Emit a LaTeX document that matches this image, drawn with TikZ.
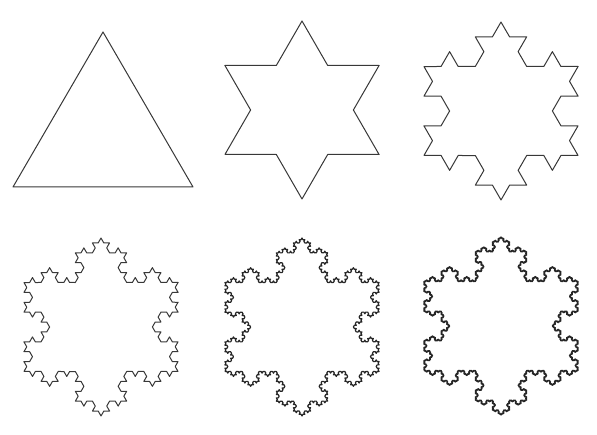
\documentclass[tikz,border=0pt]{standalone}
\usetikzlibrary{decorations.fractals}
\begin{document}
\begin{tikzpicture}[x=1pt,y=1pt,
  decoration=Koch snowflake,
  koch/.style={draw=black!78, line width=1pt, line join=round},
  kochdense/.style={draw=black!85, line width=1.2pt, line join=round}]
\useasboundingbox (0,0) rectangle (597,435);
\fill[white] (0,0) rectangle (597,435);
% iteration 0
\draw[koch] (13,248) -- (103,403) -- (193,248) -- cycle;
% iteration 1
\begin{scope}[shift={(302,325)}]
\draw[koch] decorate{ (210:89) -- (90:89) -- (330:89) -- cycle };
\end{scope}
% iteration 2
\begin{scope}[shift={(501,324)}]
\draw[koch] decorate{ decorate{ (210:89) -- (90:89) -- (330:89) -- cycle }};
\end{scope}
% iteration 3
\begin{scope}[shift={(101,108)}]
\draw[koch] decorate{ decorate{ decorate{ (210:89) -- (90:89) -- (330:89) -- cycle }}};
\end{scope}
% iteration 4
\begin{scope}[shift={(302,108)}]
\draw[kochdense] decorate{ decorate{ decorate{ decorate{ (210:89) -- (90:89) -- (330:89) -- cycle }}}};
\end{scope}
% iteration 5
\begin{scope}[shift={(501,109)}]
\draw[kochdense] decorate{ decorate{ decorate{ decorate{ decorate{ (210:89) -- (90:89) -- (330:89) -- cycle }}}}};
\end{scope}
\end{tikzpicture}
\end{document}
